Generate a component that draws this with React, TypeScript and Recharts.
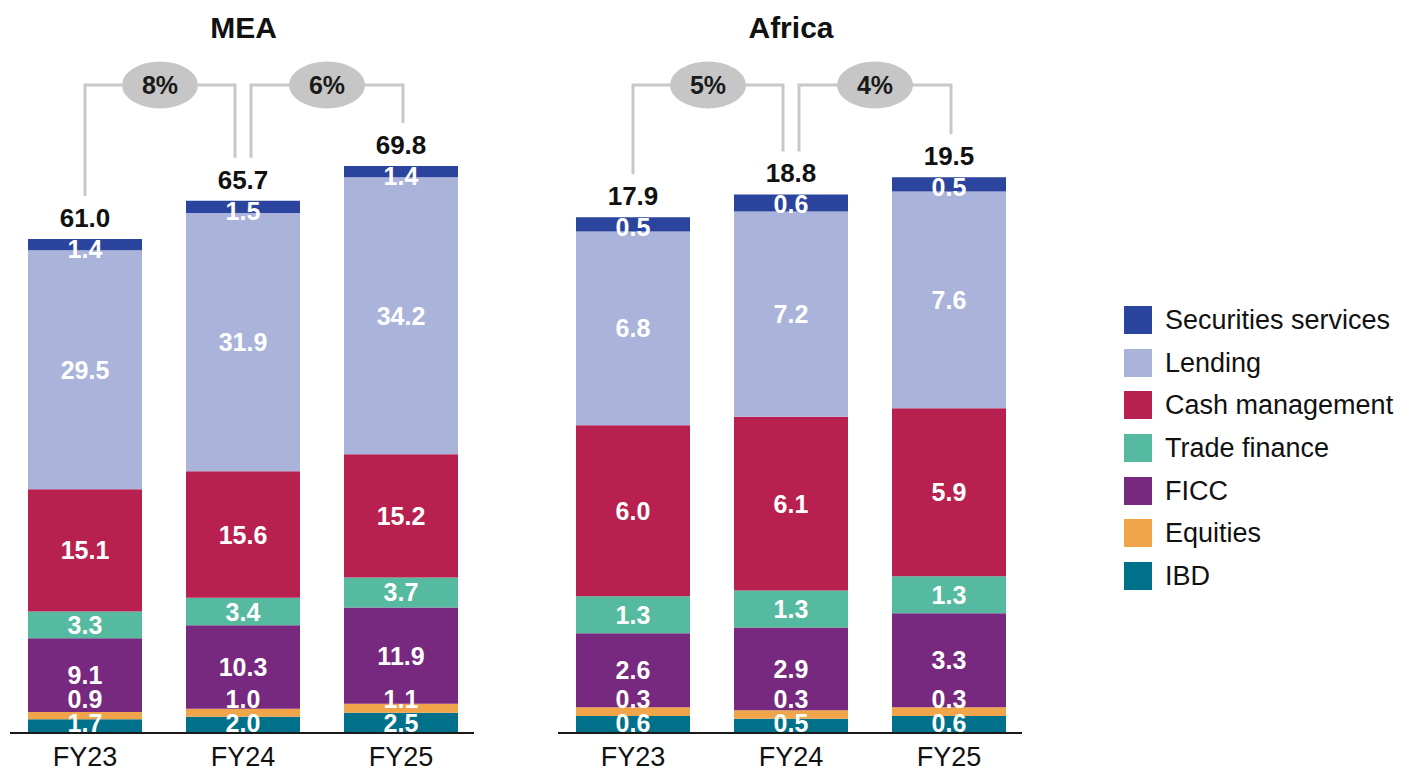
import React from 'react';
import { BarChart, Bar, XAxis, YAxis, LabelList, ReferenceLine } from 'recharts';

const FONT = '"Liberation Sans", Arial, sans-serif';

// ---------- data ----------
const categories = ['FY23', 'FY24', 'FY25'];

const seriesKeys = ['ibd', 'equities', 'ficc', 'trade', 'cash', 'lending', 'securities'];
const seriesNames = ['IBD', 'Equities', 'FICC', 'Trade finance', 'Cash management', 'Lending', 'Securities services'];
const seriesColors = ['#00718A', '#F0A54A', '#76297E', '#55BAA0', '#B8214F', '#AAB3D9', '#2B449E'];

const meaIBD = [1.7, 2.0, 2.5];
const meaEquities = [0.9, 1.0, 1.1];
const meaFICC = [9.1, 10.3, 11.9];
const meaTrade = [3.3, 3.4, 3.7];
const meaCash = [15.1, 15.6, 15.2];
const meaLending = [29.5, 31.9, 34.2];
const meaSecurities = [1.4, 1.5, 1.4];
const meaTotals = [61.0, 65.7, 69.8];
const meaGrowth = [8, 6];

const afrIBD = [0.6, 0.5, 0.6];
const afrEquities = [0.3, 0.3, 0.3];
const afrFICC = [2.6, 2.9, 3.3];
const afrTrade = [1.3, 1.3, 1.3];
const afrCash = [6.0, 6.1, 5.9];
const afrLending = [6.8, 7.2, 7.6];
const afrSecurities = [0.5, 0.6, 0.5];
const afrTotals = [17.9, 18.8, 19.5];
const afrGrowth = [5, 4];

// ---------- layout ----------
const MARGIN = { top: 35, right: 10, bottom: 0, left: 10 };
const PLOT_W = 474;
const PLOT_H = 648;
const AXIS_H = 37;
const CHART_W = PLOT_W + MARGIN.left + MARGIN.right;
const CHART_H = PLOT_H + MARGIN.top + AXIS_H;
const PLOT_BOTTOM = MARGIN.top + PLOT_H;

const vb = (p: any) => {
  const v = p.viewBox || {};
  return {
    x: Number(p.x ?? v.x),
    y: Number(p.y ?? v.y),
    width: Number(p.width ?? v.width),
    height: Number(p.height ?? v.height),
  };
};

function segLabel(kind: string, values: number[]) {
  return (p: any) => {
    const { x, y, width, height } = vb(p);
    const cx = x + width / 2;
    let by: number;
    if (kind === 'ibd') by = PLOT_BOTTOM - 1;
    else if (kind === 'equities') by = PLOT_BOTTOM - 25;
    else if (kind === 'securities') by = y + 19;
    else by = y + height / 2 + 9;
    const v = values[p.index];
    return (
      <text x={cx} y={by} textAnchor="middle" fill="#ffffff" fontWeight={700} fontSize={25} fontFamily={FONT}>
        {v.toFixed(1)}
      </text>
    );
  };
}

function totalLabel(totals: number[]) {
  return (p: any) => {
    const { x, y, width } = vb(p);
    return (
      <text x={x + width / 2} y={y - 12} textAnchor="middle" fill="#111111" fontWeight={700} fontSize={26} fontFamily={FONT}>
        {totals[p.index].toFixed(1)}
      </text>
    );
  };
}

const bracketShape = (text: string, lOff: number, rOff: number) => (p: any) => {
  const x1 = Number(p.x1) + lOff;
  const x2 = Number(p.x2) + rOff;
  const y1 = Number(p.y1);
  const y2 = Number(p.y2);
  const top = MARGIN.top;
  const mx = (x1 + x2) / 2;
  return (
    <g>
      <path d={`M${x1},${y1 - 43} V${top} H${x2} V${y2 - 43}`} fill="none" stroke="#C8C8C8" strokeWidth={3} />
      <ellipse cx={mx} cy={top} rx={38} ry={23.5} fill="#C6C6C6" />
      <text x={mx} y={top + 9} textAnchor="middle" fill="#1a1a1a" fontWeight={700} fontSize={25} fontFamily={FONT}>
        {text}
      </text>
    </g>
  );
};

const axisShape = (p: any) => (
  <line x1={Number(p.x1) + 4} x2={Number(p.x2) - 6} y1={p.y1} y2={p.y2} stroke="#1a1a1a" strokeWidth={2} />
);

const renderTick = (p: any) => (
  <text x={p.x} y={p.y + 33} textAnchor="middle" fill="#111111" fontSize={27} fontFamily={FONT}>
    {p.payload.value}
  </text>
);

type PanelProps = {
  title: string;
  series: number[][];
  totals: number[];
  growth: number[];
  yMax: number;
  left: number;
  top: number;
  titleCenter: number;
};

function Panel({ title, series, totals, growth, yMax, left, top, titleCenter }: PanelProps) {
  const rows = categories.map((c, i) => {
    const r: any = { name: c };
    seriesKeys.forEach((k, s) => {
      r[k] = series[s][i];
    });
    return r;
  });
  const stackTops = categories.map((_, i) => series.reduce((a, s) => a + s[i], 0));
  const n = categories.length;

  return (
    <>
      <div
        style={{
          position: 'absolute',
          left: titleCenter - 150,
          top: 12.6,
          width: 300,
          textAlign: 'center',
          fontSize: 30,
          lineHeight: '30px',
          fontWeight: 700,
          color: '#111',
          fontFamily: FONT,
        }}
      >
        {title}
      </div>
      <div style={{ position: 'absolute', left, top }}>
        <BarChart width={CHART_W} height={CHART_H} data={rows} margin={MARGIN}>
          <XAxis
            dataKey="name"
            axisLine={false}
            tickLine={false}
            tickSize={0}
            tickMargin={0}
            height={AXIS_H}
            interval={0}
            tick={renderTick}
          />
          <YAxis hide domain={[0, yMax]} allowDataOverflow />
          {seriesKeys.map((k, s) => (
            <Bar key={k} dataKey={k} stackId="a" fill={seriesColors[s]} barSize={114} isAnimationActive={false}>
              <LabelList content={segLabel(k, series[s])} />
              {k === 'securities' ? <LabelList content={totalLabel(totals)} /> : null}
            </Bar>
          ))}
          <ReferenceLine y={0} ifOverflow="visible" shape={axisShape} />
          {growth.map((g, i) => (
            <ReferenceLine
              key={`br${i}`}
              segment={[
                { x: categories[i], y: stackTops[i] },
                { x: categories[i + 1], y: stackTops[i + 1] },
              ]}
              ifOverflow="visible"
              shape={bracketShape(`${g}%`, i > 0 ? 8 : 0, i + 1 < n - 1 ? -8 : 2)}
            />
          ))}
        </BarChart>
      </div>
    </>
  );
}

function Legend() {
  const order = seriesKeys.map((_, i) => i).reverse();
  return (
    <>
      {order.map((s, row) => (
        <div
          key={seriesKeys[s]}
          style={{
            position: 'absolute',
            left: 1124,
            top: 306 + row * 42.67,
            height: 28,
            display: 'flex',
            alignItems: 'center',
            fontFamily: FONT,
            fontSize: 27,
            lineHeight: '28px',
            color: '#111',
            whiteSpace: 'nowrap',
          }}
        >
          <div style={{ width: 28, height: 28, background: seriesColors[s], marginRight: 13 }} />
          <span>{seriesNames[s]}</span>
        </div>
      ))}
    </>
  );
}

export default function App() {
  return (
    <div
      style={{
        position: 'absolute',
        left: 0,
        top: 0,
        width: 1401,
        height: 770,
        overflow: 'hidden',
        background: '#ffffff',
      }}
    >
      <Panel
        title="MEA"
        series={[meaIBD, meaEquities, meaFICC, meaTrade, meaCash, meaLending, meaSecurities]}
        totals={meaTotals}
        growth={meaGrowth}
        yMax={80}
        left={6 - MARGIN.left}
        top={85 - MARGIN.top}
        titleCenter={243.5}
      />
      <Panel
        title="Africa"
        series={[afrIBD, afrEquities, afrFICC, afrTrade, afrCash, afrLending, afrSecurities]}
        totals={afrTotals}
        growth={afrGrowth}
        yMax={22.74}
        left={554 - MARGIN.left}
        top={85 - MARGIN.top}
        titleCenter={791}
      />
      <Legend />
    </div>
  );
}
